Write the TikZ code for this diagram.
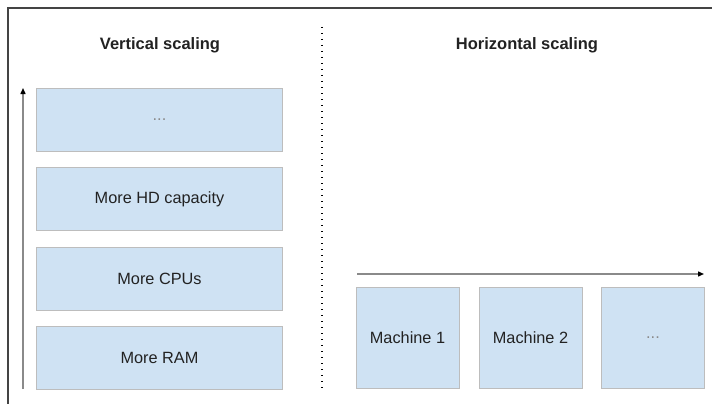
\documentclass[tikz,border=0pt]{standalone}
\usepackage{fontspec}
\setmainfont{Liberation Sans}
\usetikzlibrary{arrows.meta}
\definecolor{boxfill}{HTML}{CFE2F3}
\definecolor{boxline}{HTML}{BDBDBD}
\definecolor{txt}{HTML}{222222}
\definecolor{arrowgray}{HTML}{8A8A8A}
\definecolor{framegray}{HTML}{444444}
\tikzset{
  stackbox/.style={draw=boxline, line width=0.9pt, fill=boxfill, inner sep=0pt,
    minimum width=246pt, minimum height=63pt, font=\fontsize{16.3}{18}\selectfont, text=txt},
  machbox/.style={draw=boxline, line width=0.9pt, fill=boxfill, inner sep=0pt,
    minimum width=103pt, minimum height=101pt, font=\fontsize{16.3}{18}\selectfont, text=txt},
  titletext/.style={font=\bfseries\fontsize{16.5}{18}\selectfont, text=txt},
  growarrow/.style={draw=arrowgray, line width=1.4pt, -{Triangle[length=6pt,width=5pt,fill=black,color=black]}},
}
\begin{document}
\begin{tikzpicture}[x=1pt,y=-1pt]
\useasboundingbox (0,0) rectangle (712,404);
\fill[white] (0,0) rectangle (712,404);
% frame
\coordinate (fbl) at (8,404);
\coordinate (ftl) at (8,8);
\coordinate (ftr) at (712,8);
\draw[framegray, line width=1.3pt] (fbl) -- (ftl) -- (ftr);
% titles
\node[titletext] (vt) at (160,45) {Vertical scaling};
\node[titletext] (ht) at (527,45) {Horizontal scaling};
% divider
\coordinate (d1) at (322,27);
\coordinate (d2) at (322,389);
\draw[black, line width=1.3pt, dash pattern=on 1.3pt off 4.7pt] (d1) -- (d2);
% vertical stack
\node[stackbox] (b4) at (159.5,119.5) {\textcolor{arrowgray}{...}};
\node[stackbox] (b3) at (159.5,199) {More HD capacity};
\node[stackbox] (b2) at (159.5,279) {More CPUs};
\node[stackbox] (b1) at (159.5,358) {More RAM};
\coordinate (va1) at (23,389);
\coordinate (va2) at (23,88);
\draw[growarrow] (va1) -- (va2);
% horizontal
\node[machbox] (m1) at (407.5,337.5) {Machine 1};
\node[machbox] (m2) at (530.5,337.5) {Machine 2};
\node[machbox] (m3) at (653,337.5) {\textcolor{arrowgray}{...}};
\coordinate (ha1) at (357,274);
\coordinate (ha2) at (704,274);
\draw[growarrow] (ha1) -- (ha2);
\end{tikzpicture}
\end{document}
